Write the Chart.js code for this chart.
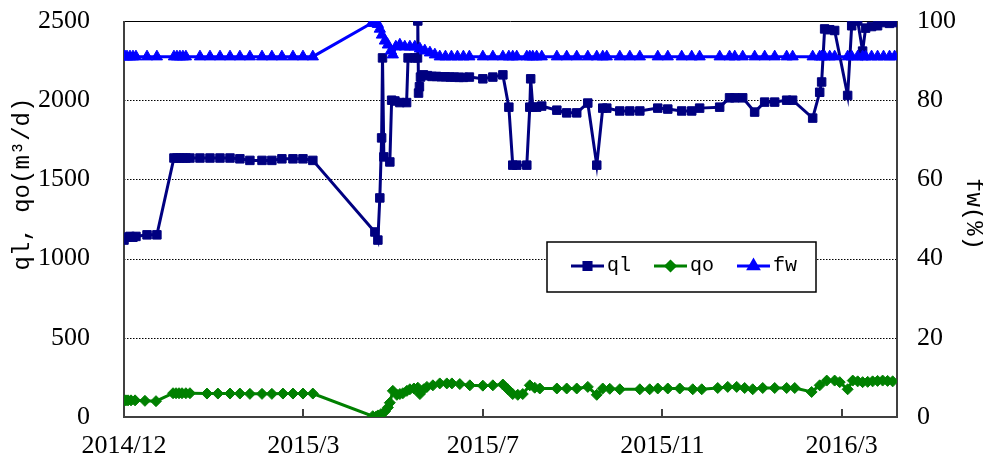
<!DOCTYPE html>
<html>
<head>
<meta charset="utf-8">
<script src="https://cdn.jsdelivr.net/npm/chart.js@4/dist/chart.umd.min.js"></script>
<style>
html,body{margin:0;padding:0;background:#fff;}
canvas{display:block;}
</style>
</head>
<body>
<canvas id="c" width="983" height="459"></canvas>
<script>
// ---- data (x = days since 2014/12/01) ----
const tickDays = [0, 120, 240, 360, 480];
const tickLabels = ['2014/12', '2015/3', '2015/7', '2015/11', '2016/3'];
const leftTicks = [0, 500, 1000, 1500, 2000, 2500];
const rightTicks = [0, 20, 40, 60, 80, 100];
const seriesNames = ['ql', 'qo', 'fw'];

const qlDays = [0,2,4,6,8,15.4,22,
  33.4,35.4,37.4,39.4,41.4,44.1,50.8,57.5,64.2,70.9,77.5,84.2,92.3,98.9,105.6,113,119.7,126.3,
  167.8,169.8,171.1,172.3,172.9,173.8,177.8,179,181.2,184.5,189,190,194.5,196.3,196.5,197,197.6,198.3,200.3,203,206,209,212,215,218,221,224,227,231,
  240,246.7,253.4,257.4,260,262.7,269.4,271.4,272,273.4,276,279.4,289.5,296.1,302.8,310.2,316.2,320.2,322.9,331.6,338.3,345,357,363.7,373,379.7,385,398.4,405,408.5,413.8,421.8,428.5,435.2,443.2,447.2,460.6,465.3,466.6,468.6,472,475.3,484,486.7,490.7,494,496,500,504,508,512,515.4];
const qlValues = [1117,1135,1140,1135,1140,1150,1150,
  1635,1635,1635,1635,1635,1635,1635,1635,1635,1635,1630,1620,1620,1620,1630,1630,1630,1620,
  1168,1117,1383,1762,2267,1642,1610,2000,1995,1985,1985,2267,2267,2267,2500,2045,2085,2146,2160,2155,2150,2150,2148,2148,2146,2146,2144,2144,2146,
  2135,2146,2160,1956,1590,1590,1590,1956,2135,1956,1956,1963,1937,1920,1920,1982,1590,1950,1950,1932,1932,1932,1950,1944,1932,1932,1950,1956,2015,2015,2015,1925,1988,1988,2000,2000,1887,2050,2115,2450,2445,2440,2030,2470,2500,2310,2455,2465,2470,2490,2485,2490];

const qoDays = [0,1.3,2.7,4.7,7.4,14,21.4,32.8,34.8,36.8,38.8,41.4,44.1,55.5,62.8,70.9,77.5,84.2,92.3,98.9,106.3,113,119.7,126.3,
  166.4,168.5,169.8,171.8,174.5,176.5,177.8,179.8,182.5,184.5,186.5,189.2,191.2,193.9,196.5,197.9,200.5,202.6,206.6,211.2,215.9,219.3,224.6,231.3,240,246.7,253.4,256.7,260,263.4,266.7,271.4,274.7,278.1,289.5,296.1,302.8,310.2,316.2,320.2,324.9,331.6,345,351.6,357,363.7,371.7,380.4,386.4,397.1,403.8,409.8,415.1,420.5,427.2,435.2,443.2,448.6,459.9,465.3,470,475.3,478.7,484,487.4,490.7,494,497.4,500.7,504,507.4,510.7,514.1];
const qoValues = [105,105,105,105,105,102,100,150,150,150,150,150,150,148,148,148,148,146,146,146,148,148,148,148,
  5,2,10,18,35,60,90,165,140,145,150,165,175,180,185,145,175,190,200,212,212,212,208,200,198,200,205,175,145,140,145,200,185,180,180,180,180,190,140,180,178,175,175,175,180,180,180,175,175,183,190,190,183,175,183,183,183,183,158,200,230,230,220,175,230,225,220,222,225,228,230,228,225];

const fwDays = [0,0.7,2,4,6,8,15.4,22,33.4,35.4,37.4,39.4,41.4,50.8,57.5,64.2,70.9,77.5,84.2,92.3,98.9,105.6,113,119.7,126.3,
  165.8,167.8,169.8,171.1,172.5,174.5,176.5,178.5,179.8,181.8,184.5,187.8,191.2,194.5,197.9,201.2,204.6,207.9,211.2,
  215,219,223,227,231,240,246.7,253.4,257.4,260,262.7,269.4,271.4,273.4,276,279.4,289.5,296.1,302.8,310.2,316.2,320.2,322.9,331.6,338.3,345,357,363.7,373,379.7,385,398.4,405,408.5,413.8,421.8,428.5,435.2,443.2,447.2,460.6,465.3,466.6,468.6,472,475.3,484,486.7,490.7,494,496,500,504,508,512,515.4];
const fwValues = [91,91,91,91,91,91,91,91,91,91,91,91,91,91,91,91,91,91,91,91,91,91,91,91,91,
  99.5,99.5,99.2,98,96.5,95,94,92.5,91.5,93.5,94,93.5,93.5,93.5,93,92.5,92,91.5,91,
  91,91,91,91,91,91,91,91,91,91,91,91,91,91,91,91,91,91,91,91,91,91,91,91,91,91,91,91,91,91,91,91,91,91,91,91,91,91,91,91,91,91,91,91,91,91,91,91,91,91,91,91,91,91,91,91];

// ---- styles ----
const COLORS = { ql: '#000080', qo: '#008000', fw: '#0000FF' };
const STYLES = { ql: 'rect', qo: 'rectRot', fw: 'triangle' };
const RADII = { ql: 6, qo: 5.5, fw: 6.5 };
const tickFont = { family: '"Liberation Serif", "Times New Roman", serif', size: 26 };
const monoFamily = '"Liberation Mono", "DejaVu Sans Mono", monospace';

function pts(days, vals) { return days.map((d, i) => ({ x: d, y: vals[i] })); }

const framePlugin = {
  id: 'frame',
  beforeDatasetsDraw(chart) {
    const { ctx, chartArea: a, scales } = chart;
    const y = scales.y, x = scales.x;
    ctx.save();
    leftTicks.forEach(v => {
      if (v === 0) return;
      const py = Math.round(y.getPixelForValue(v)) + 0.5;
      ctx.beginPath();
      ctx.lineWidth = 1;
      ctx.strokeStyle = '#000';
      ctx.setLineDash(v === 2500 ? [] : [1.5, 1.5]);
      ctx.moveTo(a.left, py); ctx.lineTo(a.right, py);
      ctx.stroke();
    });
    ctx.setLineDash([]);
    ctx.strokeStyle = '#404040';
    ctx.lineWidth = 2;
    ctx.beginPath();
    ctx.moveTo(a.left, a.top); ctx.lineTo(a.left, a.bottom); ctx.lineTo(a.right, a.bottom); ctx.lineTo(a.right, a.top);
    ctx.stroke();
    tickDays.forEach(d => {
      const px = Math.round(x.getPixelForValue(d));
      ctx.beginPath();
      ctx.moveTo(px, a.bottom); ctx.lineTo(px, a.bottom - 8);
      ctx.stroke();
    });
    ctx.restore();
  },
  afterDraw(chart) {
    const { ctx } = chart;
    ctx.save();
    ctx.fillStyle = '#000';
    ctx.font = '24px ' + monoFamily;
    ctx.textAlign = 'center';
    ctx.textBaseline = 'middle';
    ctx.save();
    ctx.translate(23, 184);
    ctx.rotate(-Math.PI / 2);
    ctx.fillText('ql, qo(m³/d)', 0, 0);
    ctx.restore();
    ctx.save();
    ctx.translate(973, 214);
    ctx.rotate(Math.PI / 2);
    ctx.fillText('fw(%)', 0, 0);
    ctx.restore();
    // legend box
    const bx = 547, by = 242, bw = 269, bh = 50;
    ctx.fillStyle = '#fff';
    ctx.fillRect(bx, by, bw, bh);
    ctx.strokeStyle = '#000';
    ctx.lineWidth = 1.5;
    ctx.strokeRect(bx, by, bw, bh);
    const cy = by + 24;
    const starts = [571, 654, 737];
    seriesNames.forEach((n, i) => {
      const sx = starts[i];
      ctx.strokeStyle = COLORS[n];
      ctx.fillStyle = COLORS[n];
      ctx.lineWidth = 3;
      ctx.beginPath();
      ctx.moveTo(sx, cy); ctx.lineTo(sx + 33, cy);
      ctx.stroke();
      Chart.helpers.drawPoint(ctx, { pointStyle: STYLES[n], radius: RADII[n] - 1, rotation: 0, borderWidth: 1 }, sx + 16.5, cy);
      ctx.fillStyle = '#000';
      ctx.font = '20px ' + monoFamily;
      ctx.textAlign = 'left';
      ctx.textBaseline = 'middle';
      ctx.fillText(n, sx + 36, cy);
    });
    ctx.restore();
  }
};

function mk(name, days, vals, axis) {
  return {
    label: name,
    data: pts(days, vals),
    yAxisID: axis,
    borderColor: COLORS[name],
    backgroundColor: COLORS[name],
    pointBackgroundColor: COLORS[name],
    pointBorderColor: COLORS[name],
    pointStyle: STYLES[name],
    pointRadius: RADII[name],
    pointBorderWidth: 1,
    borderWidth: 3,
    tension: 0,
    fill: false
  };
}

function noPad(s) { s.paddingTop = 0; s.paddingBottom = 0; s.paddingLeft = 0; s.paddingRight = 0; }

new Chart(document.getElementById('c'), {
  type: 'line',
  data: {
    datasets: [
      mk('fw', fwDays, fwValues, 'y1'),
      mk('qo', qoDays, qoValues, 'y'),
      mk('ql', qlDays, qlValues, 'y')
    ]
  },
  options: {
    responsive: false,
    animation: false,
    layout: { padding: { top: 21, left: 0, right: 0, bottom: 0 } },
    plugins: { legend: { display: false }, tooltip: { enabled: false }, title: { display: false } },
    scales: {
      x: {
        type: 'linear', position: 'bottom', min: 0, max: 517,
        grid: { display: false }, border: { display: false },
        afterBuildTicks: s => { s.ticks = tickDays.map(v => ({ value: v })); },
        afterFit: s => { s.height = 42; noPad(s); },
        ticks: {
          font: tickFont, color: '#000', maxRotation: 0, autoSkip: false, padding: 6,
          callback: v => { const i = tickDays.indexOf(v); return i >= 0 ? tickLabels[i] : ''; }
        }
      },
      y: {
        type: 'linear', position: 'left', min: 0, max: 2500,
        grid: { display: false }, border: { display: false },
        afterBuildTicks: s => { s.ticks = leftTicks.map(v => ({ value: v })); },
        afterFit: s => { s.width = 124; noPad(s); },
        ticks: { font: tickFont, color: '#000', padding: 26, callback: v => String(v) }
      },
      y1: {
        type: 'linear', position: 'right', min: 0, max: 100,
        grid: { display: false }, border: { display: false },
        afterBuildTicks: s => { s.ticks = rightTicks.map(v => ({ value: v })); },
        afterFit: s => { s.width = 86; noPad(s); },
        ticks: { font: tickFont, color: '#000', padding: 12, callback: v => String(v) }
      }
    }
  },
  plugins: [framePlugin]
});
</script>
</body>
</html>
